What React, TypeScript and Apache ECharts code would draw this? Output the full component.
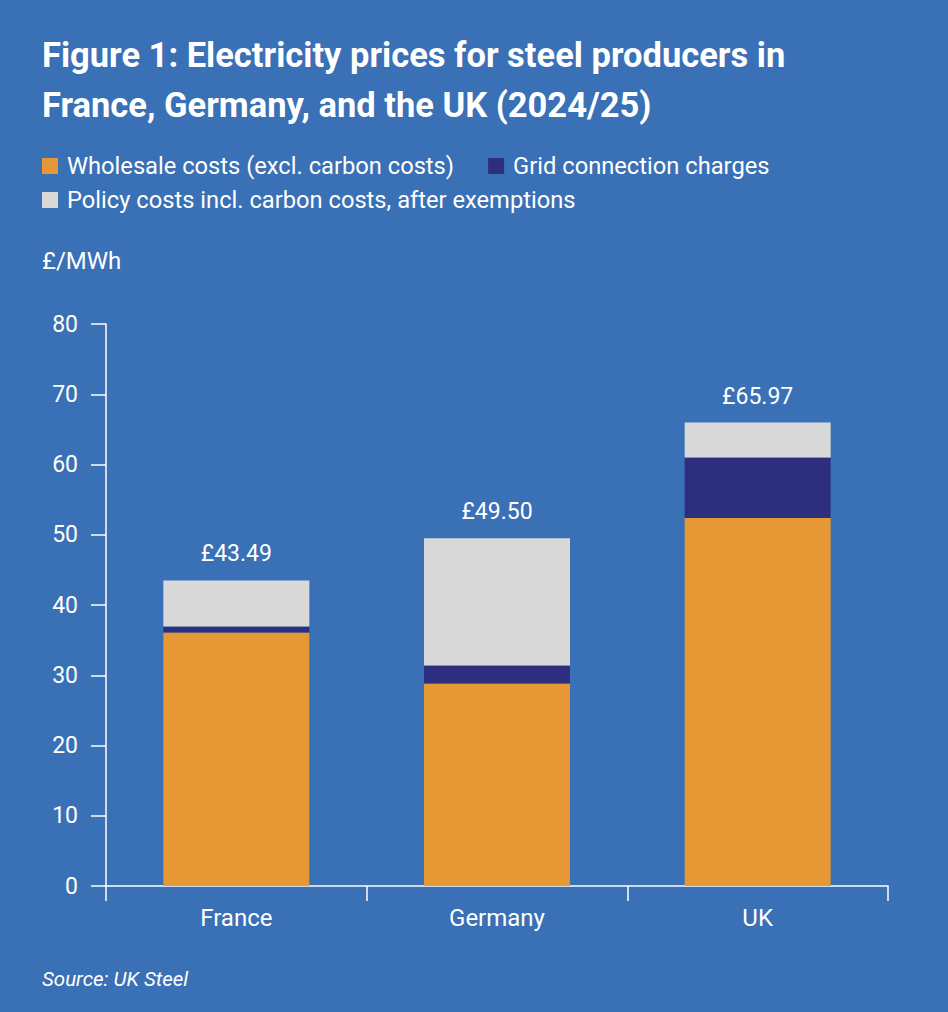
import React, { useEffect, useRef } from "react";
import * as echarts from "echarts";

const categories = ["France", "Germany", "UK"];
const wholesale = [36.1, 28.84, 52.4];
const grid = [0.85, 2.56, 8.6];
const policy = [6.54, 18.1, 4.97];
const totals = ["£43.49", "£49.50", "£65.97"];
const seriesNames = [
  "Wholesale costs (excl. carbon costs)",
  "Grid connection charges",
  "Policy costs incl. carbon costs, after exemptions",
];

const BG = "#3A70B5";
const FONT = "Roboto, 'Noto Sans', sans-serif";

export default function App() {
  const ref = useRef<HTMLDivElement>(null);
  useEffect(() => {
    const chart = echarts.init(ref.current!, null, { renderer: "svg" });
    const textStyle = { color: "#fff", fontFamily: FONT, fontSize: 23.7, padding: [0, 0, 0, 4] };
    chart.setOption({
      animation: false,
      backgroundColor: BG,
      textStyle: { fontFamily: FONT },
      title: {
        text: "Figure 1: Electricity prices for steel producers in\nFrance, Germany, and the UK (2024/25)",
        left: 42,
        top: 30,
        padding: 0,
        textStyle: { color: "#fff", fontFamily: FONT, fontSize: 34.5, fontWeight: "bold", lineHeight: 50 },
      },
      legend: [
        {
          data: [seriesNames[0], seriesNames[1]],
          left: 37,
          top: 149,
          icon: "rect",
          itemWidth: 16,
          itemHeight: 16,
          itemGap: 34,
          textStyle,
          selectedMode: false,
        },
        {
          data: [seriesNames[2]],
          left: 37,
          top: 183,
          icon: "rect",
          itemWidth: 16,
          itemHeight: 16,
          textStyle,
          selectedMode: false,
        },
      ],
      graphic: [
        {
          type: "text",
          left: 42,
          top: 249,
          style: { text: "£/MWh", fill: "#fff", font: `24px ${FONT}` },
        },
        {
          type: "text",
          left: 42,
          top: 969,
          style: { text: "Source: UK Steel", fill: "#fff", font: `italic 20.5px ${FONT}` },
        },
      ],
      grid: { left: 106, right: 60, top: 324, bottom: 126 },
      xAxis: {
        type: "category",
        data: categories,
        axisLine: { lineStyle: { color: "#fff", width: 1.5 } },
        axisTick: { show: true, length: 15, lineStyle: { color: "#fff", width: 1.5 } },
        axisLabel: { color: "#fff", fontSize: 24, fontFamily: FONT, margin: 20 },
      },
      yAxis: {
        type: "value",
        min: 0,
        max: 80,
        interval: 10,
        axisLine: { show: true, lineStyle: { color: "#fff", width: 1.5 } },
        axisTick: { show: true, length: 15, lineStyle: { color: "#fff", width: 1.5 } },
        axisLabel: { color: "#fff", fontSize: 23, fontFamily: FONT, margin: 28 },
        splitLine: { show: false },
      },
      series: [
        {
          name: seriesNames[0],
          type: "bar",
          stack: "t",
          barWidth: "56%",
          data: wholesale,
          itemStyle: { color: "#E59834" },
        },
        {
          name: seriesNames[1],
          type: "bar",
          stack: "t",
          data: grid,
          itemStyle: { color: "#2E2E7E" },
        },
        {
          name: seriesNames[2],
          type: "bar",
          stack: "t",
          data: policy,
          itemStyle: { color: "#D9D9D9" },
          label: {
            show: true,
            position: "top",
            distance: 15,
            color: "#fff",
            fontSize: 23,
            fontFamily: FONT,
            formatter: (p: any) => totals[p.dataIndex],
          },
        },
      ],
    });
    return () => chart.dispose();
  }, []);
  return (
    <div
      ref={ref}
      style={{ position: "absolute", left: 0, top: 0, width: 948, height: 1012 }}
    />
  );
}
